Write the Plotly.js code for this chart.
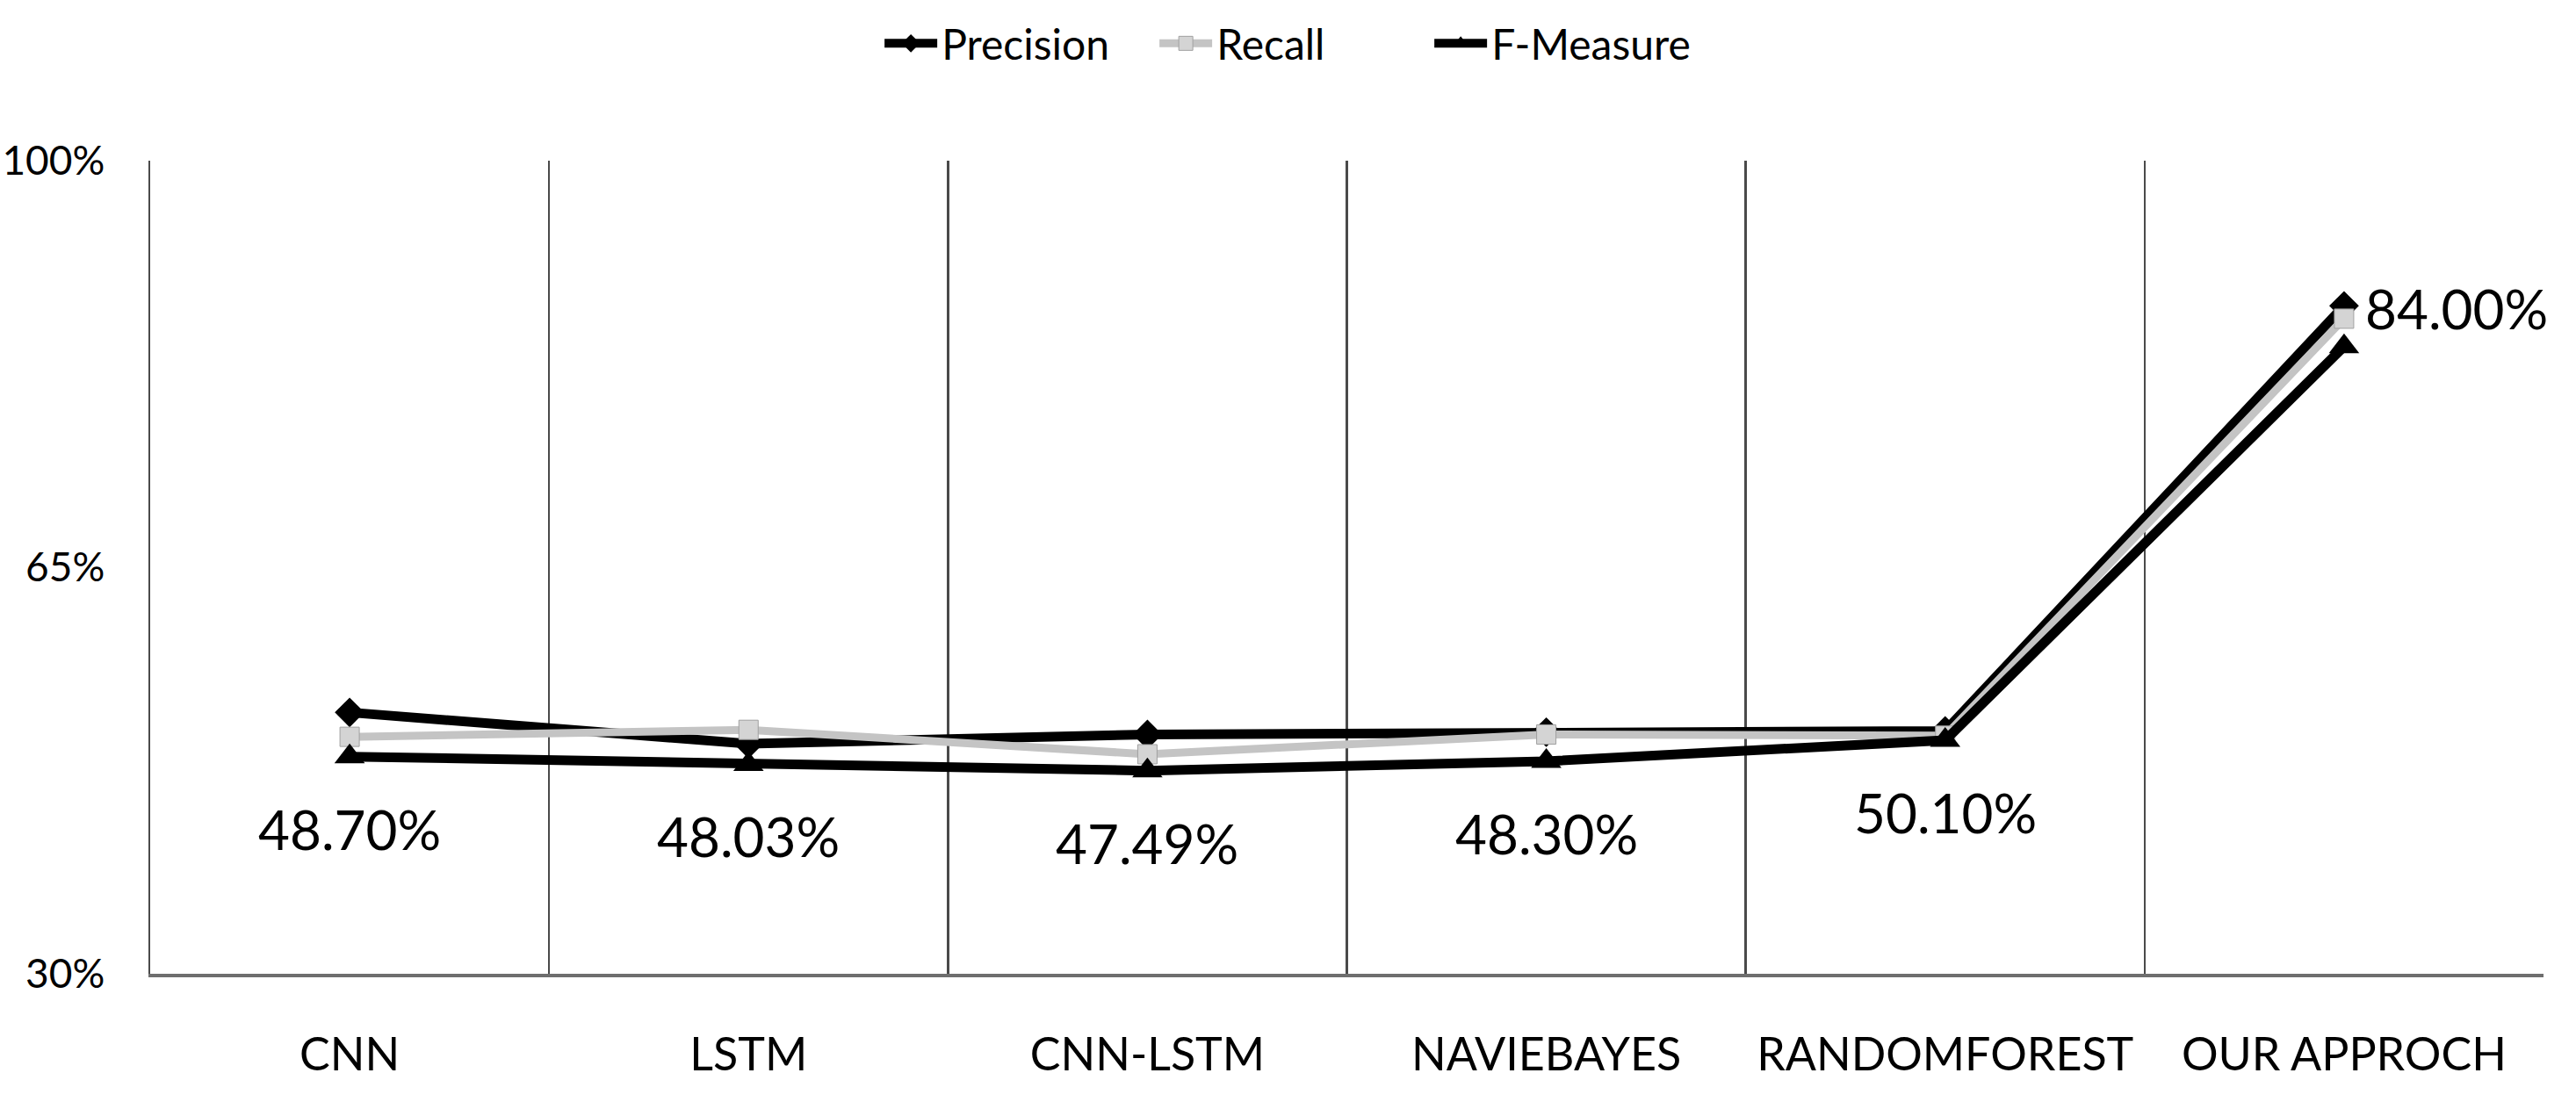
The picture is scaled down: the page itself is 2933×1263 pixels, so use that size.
<!DOCTYPE html>
<html>
<head>
<meta charset="utf-8">
<script src="https://cdn.plot.ly/plotly-3.0.1.min.js"></script>
<style>
  html, body { margin: 0; padding: 0; background: #ffffff; }
  #chart { width: 2933px; height: 1263px; }
</style>
</head>
<body>
<div id="chart"></div>
<script>
// ---- data ----
const categories = ["CNN", "LSTM", "CNN-LSTM", "NAVIEBAYES", "RANDOMFOREST", "OUR APPROCH"];
const precision = [52.5, 49.8, 50.6, 50.8, 50.9, 87.5];
const recall    = [50.4, 51.0, 48.9, 50.6, 50.5, 86.4];
const fMeasure  = [48.70, 48.03, 47.49, 48.30, 50.10, 84.00];
const yTickVals = [30, 65, 100];
const yTickText = ["30%", "65%", "100%"];

const FONT = "Lato, 'Open Sans', sans-serif";

const traces = [
  {
    name: "Precision", x: categories, y: precision,
    type: "scatter", mode: "lines+markers",
    line: { color: "#000000", width: 11 },
    marker: { symbol: "diamond", size: 26, color: "#000000" }
  },
  {
    name: "Recall", x: categories, y: recall,
    type: "scatter", mode: "lines+markers",
    line: { color: "#c4c4c4", width: 9 },
    marker: { symbol: "square", size: 22, color: "#d4d4d4", line: { color: "#a0a0a0", width: 1 } }
  },
  {
    name: "F-Measure", x: categories, y: fMeasure,
    type: "scatter", mode: "lines+markers",
    line: { color: "#000000", width: 11 },
    marker: { symbol: "triangle-up", size: 30, color: "#000000" }
  }
];

// data labels for F-Measure, built from the arrays
const annotations = fMeasure.map((v, i) => {
  const last = i === categories.length - 1;
  return {
    x: categories[i], y: v, xref: "x", yref: "y",
    text: v.toFixed(2) + "%",
    showarrow: false,
    xanchor: last ? "left" : "center",
    yanchor: "middle",
    xshift: last ? 22 : 0,
    yshift: last ? 44 : -82,
    font: { family: FONT, size: 62, color: "#000000" }
  };
});

const layout = {
  width: 2933, height: 1263,
  paper_bgcolor: "#ffffff", plot_bgcolor: "#ffffff",
  margin: { l: 171, r: 37, t: 177, b: 154 },
  font: { family: FONT, color: "#000000" },
  showlegend: true,
  legend: {
    orientation: "h", x: 0.305, xanchor: "left", y: 1.144, yanchor: "middle",
    font: { family: FONT, size: 48, color: "#000000" },
    itemwidth: 60, entrywidth: 238, entrywidthmode: "pixels",
    bgcolor: "rgba(0,0,0,0)"
  },
  xaxis: {
    type: "category",
    range: [-0.5, 5.5],
    tickson: "boundaries",
    showgrid: true, gridcolor: "#4a4a4a", gridwidth: 2.5,
    showline: true, linecolor: "#6e6e6e", linewidth: 4,
    ticks: "", ticklabelstandoff: 44,
    tickfont: { family: FONT, size: 52, color: "#000000" },
    zeroline: false, fixedrange: true
  },
  yaxis: {
    range: [30, 100],
    tickvals: yTickVals, ticktext: yTickText,
    showgrid: false, zeroline: false,
    showline: true, linecolor: "#4a4a4a", linewidth: 2.5,
    ticks: "", ticklabelstandoff: 40,
    tickfont: { family: FONT, size: 46, color: "#000000" },
    fixedrange: true
  },
  annotations: annotations
};

Plotly.newPlot("chart", traces, layout, { staticPlot: true, displayModeBar: false });
</script>
</body>
</html>
